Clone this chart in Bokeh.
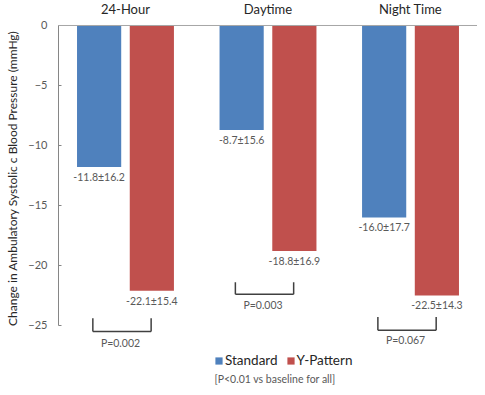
from bokeh.plotting import figure
from bokeh.models import ColumnDataSource, FactorRange, Range1d, FixedTicker, Legend, LegendItem, Title, Span
from bokeh.transform import dodge
from bokeh.embed import file_html
from bokeh.resources import INLINE

cats = ["24-Hour", "Daytime", "Night Time"]
standard = [-11.8, -8.7, -16.0]
ypattern = [-22.1, -18.8, -22.5]
standard_sd = [16.2, 15.6, 17.7]
ypattern_sd = [15.4, 16.9, 14.3]
p_values = ["P=0.002", "P=0.003", "P=0.067"]
bracket_top = [-24.4, -21.4, -24.3]
bracket_bottom = [-25.5, -22.4, -25.4]
p_label_y = [-26.5, -23.3, -26.2]
y_ticks = [0, -5, -10, -15, -20, -25]
series_names = ["Standard", "Y-Pattern"]
footnote = "[P<0.01 vs baseline for all]"
y_title = "Change in Ambulatory Systolic c Blood Pressure (mmHg)"

BLUE = "#4F81BD"
RED = "#C0504D"
GREY = "#595959"
FONT = "Lato"

src = ColumnDataSource(dict(
    cat=cats, std=standard, yp=ypattern, zero=[0] * len(cats),
    std_lbl=[f"{v:.1f}\u00b1{s:.1f}" for v, s in zip(standard, standard_sd)],
    yp_lbl=[f"{v:.1f}\u00b1{s:.1f}" for v, s in zip(ypattern, ypattern_sd)],
    ptxt=p_values, btop=bracket_top, bbot=bracket_bottom, py=p_label_y,
))

p = figure(width=477, height=387,
           x_range=FactorRange(factors=cats, range_padding=-0.02),
           y_range=Range1d(-30.17, 2.083), x_axis_location=None,
           output_backend="svg", toolbar_location=None,
           min_border_left=0, min_border_right=0, min_border_top=0, min_border_bottom=0)
p.outline_line_color = None
p.grid.visible = False

ya = p.yaxis[0]
ya.bounds = (-25, 0)
ya.ticker = FixedTicker(ticks=y_ticks)
ya.axis_line_color = "#868686"
ya.major_tick_line_color = "#868686"
ya.major_tick_in = 3
ya.major_tick_out = 0
ya.minor_tick_line_color = None
ya.major_label_text_font = FONT
ya.major_label_text_font_size = "11px"
ya.major_label_text_color = GREY
ya.major_label_standoff = 11

p.add_layout(Title(text=y_title, align="right", offset=30, standoff=8,
                   vertical_align="top",
                   text_font=FONT, text_font_size="12px", text_font_style="normal",
                   text_color="#262626"), "left")

p.add_layout(Span(location=0, dimension="width", line_color="#A6A6A6", line_width=1))

off = 0.185
w = 0.31
r1 = p.vbar(x=dodge("cat", -off, range=p.x_range), top="std", bottom=0, width=w,
            source=src, fill_color=BLUE, line_color=None)
r2 = p.vbar(x=dodge("cat", off, range=p.x_range), top="yp", bottom=0, width=w,
            source=src, fill_color=RED, line_color=None)

# category labels above the zero line
p.text(x="cat", y="zero", text="cat", source=src, y_offset=-8,
       text_font={"value": FONT}, text_font_size="13px", text_color="#262626",
       text_align="center", text_baseline="bottom")

common = dict(text_font={"value": FONT}, text_font_size="10.5px", text_color=GREY,
              text_align="center", text_baseline="top")
p.text(x=dodge("cat", -off, range=p.x_range), y="std", text="std_lbl", y_offset=4, source=src, **common)
p.text(x=dodge("cat", off, range=p.x_range), y="yp", text="yp_lbl", y_offset=4, source=src, **common)

L, R = -0.229, 0.18
bk = dict(source=src, line_color="#404040", line_width=1.5)
p.segment(x0=dodge("cat", L, range=p.x_range), y0="btop", x1=dodge("cat", L, range=p.x_range), y1="bbot", **bk)
p.segment(x0=dodge("cat", R, range=p.x_range), y0="btop", x1=dodge("cat", R, range=p.x_range), y1="bbot", **bk)
p.segment(x0=dodge("cat", L, range=p.x_range), y0="bbot", x1=dodge("cat", R, range=p.x_range), y1="bbot", **bk)

pc = dict(common)
pc["text_baseline"] = "middle"
p.text(x=dodge("cat", -0.035, range=p.x_range), y="py", text="ptxt", source=src, **pc)

fsrc = ColumnDataSource(dict(cat=[cats[1]], y=[-29.5], t=[footnote]))
fc = dict(pc)
fc["text_font_size"] = "10.5px"
p.text(x=dodge("cat", 0.05, range=p.x_range), y="y", text="t", source=fsrc, **fc)

legend = Legend(items=[LegendItem(label=series_names[0], renderers=[r1]),
                       LegendItem(label=series_names[1], renderers=[r2])],
                location=(156, 19), orientation="horizontal", padding=0, margin=0,
                border_line_color=None, background_fill_alpha=0, spacing=8,
                label_standoff=2, glyph_width=9, glyph_height=9, label_height=14,
                label_text_font=FONT, label_text_font_size="13.5px",
                label_text_color="#262626")
p.add_layout(legend, "center")

open("out.html", "w").write(file_html(p, INLINE))
